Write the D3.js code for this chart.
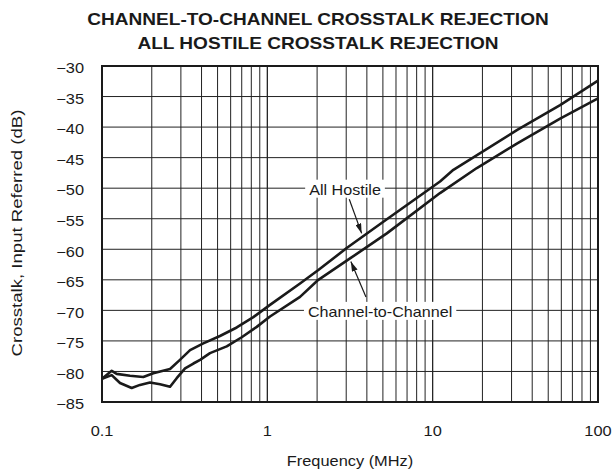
<!DOCTYPE html>
<html lang="en">
<head>
<meta charset="UTF-8">
<title>Crosstalk Rejection</title>
<script src="https://d3js.org/d3.v7.min.js"></script>
<style>
  body { margin: 0; background: #fff; }
  svg text { font-family: "Liberation Sans", Arial, sans-serif; fill: #1a1a1a; }
</style>
</head>
<body>
<svg id="chart" width="615" height="472"></svg>
<script>
// chart values
const titleLines = ["CHANNEL-TO-CHANNEL CROSSTALK REJECTION", "ALL HOSTILE CROSSTALK REJECTION"];
const xTickValues = [0.1, 1, 10, 100];
const xTickLabels = ["0.1", "1", "10", "100"];
const yTickValues = [-30, -35, -40, -45, -50, -55, -60, -65, -70, -75, -80, -85];

const hostileFreq = [0.1, 0.1145, 0.1227, 0.1477, 0.1777, 0.2043, 0.258, 0.296, 0.341, 0.41, 0.517, 0.653, 0.823, 1.038, 1.577, 2.035, 3.02, 5.03, 11.08, 13.35, 32.3, 59.0, 100];
const hostileDb   = [-81.2, -79.9, -80.4, -80.7, -80.9, -80.3, -79.6, -78.1, -76.5, -75.4, -74.2, -72.8, -71.1, -69.1, -65.6, -63.4, -59.8, -55.5, -48.9, -47.0, -40.5, -36.4, -32.4];

const channelFreq = [0.1, 0.1145, 0.1285, 0.1512, 0.1698, 0.1951, 0.2244, 0.258, 0.283, 0.318, 0.357, 0.392, 0.45, 0.568, 0.70, 0.863, 1.038, 1.577, 2.035, 3.164, 5.28, 11.08, 18.5, 32.3, 59.0, 100];
const channelDb   = [-81.2, -80.6, -81.9, -82.7, -82.2, -81.8, -82.1, -82.5, -81.1, -79.5, -78.7, -78.1, -77.0, -75.9, -74.4, -72.7, -71.0, -67.8, -65.0, -61.5, -57.4, -50.8, -46.7, -42.7, -38.6, -35.3];

// annotation labels: text, position (MHz, dB), arrow start and tip
const labelText = ["All Hostile", "Channel-to-Channel"];
const labelFreq = [2.95, 4.81];
const labelDb = [-50, -70];
const arrowFrom = [[3.13, -51.8], [3.95, -67.8]];
const arrowTo = [[3.72, -57.4], [3.20, -62.0]];

const stretch = 1.17; // reference type is drawn a little wide

const svg = d3.select("#chart");
const plotL = 102, plotR = 598, plotT = 66, plotB = 402;

const x = d3.scaleLog().domain([0.1, 100]).range([plotL, plotR]);
const y = d3.scaleLinear().domain([-30, -85]).range([plotT, plotB]);

function wideText(g, px, py, str, size, anchor, weight) {
  return g.append("text")
    .attr("transform", `translate(${px},${py}) scale(${stretch},1)`)
    .attr("text-anchor", anchor)
    .style("font-size", size + "px")
    .style("font-weight", weight || "normal")
    .text(str);
}

// title
titleLines.forEach((t, i) => wideText(svg, 318, 25 + i * 23.5, t, 16.3, "middle", "bold"));

// grid
const minorTicks = [];
[0.1, 1, 10].forEach(d => { for (let k = 1; k <= 10; k++) minorTicks.push(d * k); });
const grid = svg.append("g").attr("stroke", "#222").attr("stroke-width", 1);
grid.selectAll("line.v").data(minorTicks).join("line")
  .attr("class", "v")
  .attr("x1", d => x(d)).attr("x2", d => x(d))
  .attr("y1", plotT).attr("y2", plotB);
grid.selectAll("line.h").data(yTickValues).join("line")
  .attr("class", "h")
  .attr("x1", plotL).attr("x2", plotR)
  .attr("y1", d => y(d)).attr("y2", d => y(d));

// curves
const line = d3.line().x(d => x(d[0])).y(d => y(d[1]));
const series = [
  d3.zip(hostileFreq, hostileDb),
  d3.zip(channelFreq, channelDb)
];
svg.append("g").selectAll("path").data(series).join("path")
  .attr("d", line)
  .attr("fill", "none")
  .attr("stroke", "#1a1a1a")
  .attr("stroke-width", 2.6)
  .attr("stroke-linejoin", "round");

// labels sit on white patches over the grid
const ann = svg.append("g");
labelText.forEach((t, i) => {
  const cx = x(labelFreq[i]), cy = y(labelDb[i]);
  const txt = wideText(ann, cx, cy + 6.8, t, 13.8, "middle");
  const w = txt.node().getBBox().width * stretch + 8;
  ann.insert("rect", "text")
    .attr("x", cx - w / 2).attr("y", cy - 8.5)
    .attr("width", w).attr("height", 18)
    .attr("fill", "#fff");
});

svg.append("defs").append("marker")
  .attr("id", "head").attr("viewBox", "0 0 10 6")
  .attr("refX", 10).attr("refY", 3)
  .attr("markerWidth", 10).attr("markerHeight", 6)
  .attr("markerUnits", "userSpaceOnUse")
  .attr("orient", "auto")
  .append("path").attr("d", "M0,0L10,3L0,6Z").attr("fill", "#1a1a1a");

ann.selectAll("line").data(d3.zip(arrowFrom, arrowTo)).join("line")
  .attr("x1", d => x(d[0][0])).attr("y1", d => y(d[0][1]))
  .attr("x2", d => x(d[1][0])).attr("y2", d => y(d[1][1]))
  .attr("stroke", "#1a1a1a").attr("stroke-width", 1.2)
  .attr("marker-end", "url(#head)");

// frame
svg.append("rect")
  .attr("x", plotL).attr("y", plotT)
  .attr("width", plotR - plotL).attr("height", plotB - plotT)
  .attr("fill", "none").attr("stroke", "#1a1a1a").attr("stroke-width", 2);

// tick labels
yTickValues.forEach(v => wideText(svg, 84, y(v) + 7.3, String(v).replace("-", "\u2212"), 14, "end"));
xTickValues.forEach((v, i) => wideText(svg, x(v), 436, xTickLabels[i], 14, "middle"));

// axis titles
wideText(svg, 350, 466, "Frequency (MHz)", 14, "middle");
svg.append("text")
  .attr("transform", `translate(17,233) rotate(-90) scale(1.2,1)`)
  .attr("text-anchor", "middle")
  .attr("dy", "0.35em")
  .style("font-size", "15.5px")
  .text("Crosstalk, Input Referred (dB)");
</script>
</body>
</html>
